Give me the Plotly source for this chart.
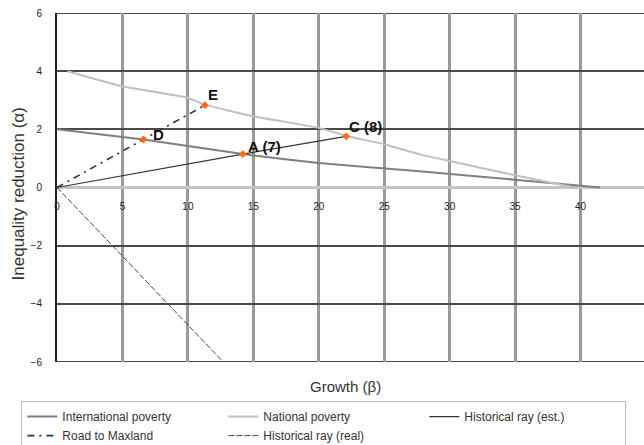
import plotly.graph_objects as go

# International poverty curve
intl_x = [0, 6.6, 14.2, 20, 27.7, 35.4, 41.5]
intl_y = [2, 1.65, 1.15, 0.84, 0.56, 0.25, 0]
# National poverty curve
nat_x = [0.8, 5, 10, 11.3, 15, 20, 22.1, 25, 27.7, 30, 35, 39.5]
nat_y = [4, 3.48, 3.08, 2.85, 2.45, 2.05, 1.77, 1.49, 1.14, 0.91, 0.42, 0]
# Historical ray (est.)
hist_x = [0, 14.2, 22.1]
hist_y = [0, 1.15, 1.76]
# Road to Maxland
road_x = [0, 6.6, 11.3]
road_y = [0, 1.65, 2.83]
# Historical ray (real)
real_x = [0, 12.7]
real_y = [0, -6]
# Labelled points
pt_names = ["D", "E", "A (7)", "C (8)"]
pt_x = [6.6, 11.3, 14.2, 22.1]
pt_y = [1.65, 2.83, 1.15, 1.76]

x_ticks = [0, 5, 10, 15, 20, 25, 30, 35, 40, 45]
y_ticks = [-6, -4, -2, 0, 2, 4, 6]

FONT = "Liberation Sans, Arial, sans-serif"
label_shift = {"D": (8, 5), "E": (1, 11), "A (7)": (3, 8), "C (8)": (1, 10)}

fig = go.Figure()
fig.add_trace(go.Scatter(x=intl_x, y=intl_y, mode="lines", name="International poverty",
                         line=dict(color="#7f7f7f", width=2, shape="spline", smoothing=0.3)))
fig.add_trace(go.Scatter(x=nat_x, y=nat_y, mode="lines", name="National poverty",
                         line=dict(color="#c0c0c0", width=2, shape="spline", smoothing=0.4)))
fig.add_trace(go.Scatter(x=hist_x, y=hist_y, mode="lines", name="Historical ray (est.)",
                         line=dict(color="#333333", width=1.2)))
fig.add_trace(go.Scatter(x=road_x, y=road_y, mode="lines", name="Road to Maxland",
                         line=dict(color="#333333", width=1.6, dash="7px,5px,2px,5px")))
fig.add_trace(go.Scatter(x=real_x, y=real_y, mode="lines", name="Historical ray (real)",
                         line=dict(color="#444444", width=1, dash="6px,2px")))
fig.add_trace(go.Scatter(x=pt_x, y=pt_y, mode="markers", showlegend=False,
                         marker=dict(color="#ff6a13", size=6, symbol="diamond")))

annotations = [
    dict(text="Growth (β)", xref="paper", yref="paper", x=0.492, y=-0.0716,
         showarrow=False, xanchor="center", yanchor="middle",
         font=dict(size=15, color="#333333")),
    dict(text="Inequality reduction (α)", xref="paper", yref="paper", x=-0.0653, y=0.482,
         showarrow=False, xanchor="center", yanchor="middle", textangle=-90,
         font=dict(size=17, color="#333333")),
]
for name, px, py in zip(pt_names, pt_x, pt_y):
    dx, dy = label_shift[name]
    annotations.append(dict(text=name, x=px, y=py, xref="x", yref="y", showarrow=False,
                            xanchor="left", yanchor="middle", xshift=dx, yshift=dy,
                            font=dict(size=15, color="#111111", weight="bold")))

fig.update_layout(
    width=644, height=445,
    margin=dict(l=57, r=0, t=13, b=83, autoexpand=False),
    paper_bgcolor="white", plot_bgcolor="white",
    font=dict(family=FONT, size=10, color="#222222"),
    showlegend=True,
    legend=dict(orientation="h", x=-0.0607, y=-0.112, xanchor="left", yanchor="top",
                entrywidth=156, entrywidthmode="pixels", itemwidth=30,
                bordercolor="#bbbbbb", borderwidth=1,
                font=dict(family=FONT, size=12, color="#333333"),
                tracegroupgap=0),
    xaxis=dict(range=[0, 44.85], tickvals=x_ticks, anchor="free", position=0.5,
               showgrid=True, gridcolor="#9a9a9a", gridwidth=2.5, automargin=False,
               zeroline=False, showline=False, ticks="", ticklabelstandoff=11,
               tickfont=dict(size=10, color="#222222")),
    yaxis=dict(range=[-6, 6], tickvals=y_ticks, automargin=False,
               showgrid=True, gridcolor="#4a4a4a", gridwidth=2,
               zeroline=True, zerolinecolor="#c4c4c4", zerolinewidth=3,
               showline=True, linecolor="#222222", linewidth=2,
               ticks="", ticklabelstandoff=11,
               tickfont=dict(size=10, color="#222222")),
    shapes=[
        dict(type="line", xref="paper", yref="y", x0=0, x1=1, y0=6, y1=6,
             line=dict(color="#4a4a4a", width=2), layer="below"),
        dict(type="line", xref="paper", yref="y", x0=0, x1=1, y0=-6, y1=-6,
             line=dict(color="#4a4a4a", width=2), layer="below"),
    ],
    annotations=annotations,
)

fig.write_html("out.html", config={"displayModeBar": False},
               post_script="document.body.style.margin='0';")
